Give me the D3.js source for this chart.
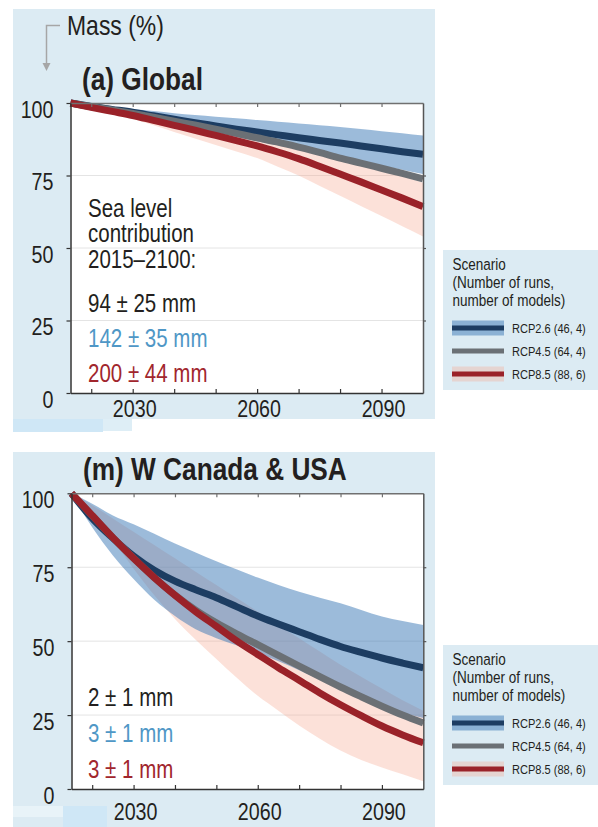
<!DOCTYPE html>
<html>
<head>
<meta charset="utf-8">
<script src="https://cdn.jsdelivr.net/npm/d3@7"></script>
<style>
  html, body { margin: 0; padding: 0; background: #fff; }
  svg { display: block; }
</style>
</head>
<body>
<svg id="chart" width="598" height="827"></svg>
<script>
// ---- data: glacier mass relative to 2015 (%) ----
const years = [2015, 2020, 2025, 2030, 2035, 2040, 2045, 2050, 2055, 2060, 2065, 2070, 2075, 2080, 2085, 2090, 2095, 2100];

// (a) Global
const globalRcp26   = [100, 98.8, 97.8, 96.8, 95.6, 94.4, 93.2, 92.1, 91.0, 90.0, 89.0, 88.0, 87.1, 86.2, 85.2, 84.2, 83.2, 82.3];
const globalRcp26Hi = [100, 99.3, 98.6, 97.9, 97.2, 96.5, 95.9, 95.3, 94.7, 94.1, 93.5, 92.9, 92.3, 91.7, 91.0, 90.3, 89.6, 88.8];
const globalRcp26Lo = [100, 98.3, 97.0, 95.7, 94.2, 92.6, 91.2, 89.8, 88.3, 86.8, 85.4, 84.0, 82.7, 81.3, 79.9, 78.4, 77.0, 75.5];
const globalRcp45   = [100, 98.7, 97.6, 96.4, 95.1, 93.7, 92.4, 91.0, 89.5, 88.0, 86.5, 84.8, 83.0, 81.0, 79.3, 77.5, 75.7, 73.8];
const globalRcp85   = [100, 98.5, 97.1, 95.7, 94.0, 92.3, 90.6, 88.8, 87.0, 85.2, 83.1, 80.8, 78.2, 75.5, 72.8, 70.0, 67.2, 64.3];
const globalRcp85Hi = [100, 98.8, 97.7, 96.6, 95.3, 94.0, 92.8, 91.5, 90.2, 89.0, 87.2, 85.3, 83.2, 81.0, 78.9, 76.8, 74.7, 72.5];
const globalRcp85Lo = [100, 98.1, 96.3, 94.5, 92.3, 90.0, 87.8, 85.5, 83.3, 81.0, 78.0, 75.0, 71.5, 68.0, 64.5, 61.0, 57.5, 54.0];

// (m) W Canada & USA
const wcanRcp26   = [100, 91.5, 84.8, 78.8, 74.0, 70.3, 67.4, 64.7, 61.6, 58.5, 55.8, 53.2, 50.6, 48.2, 46.2, 44.3, 42.6, 41.0];
const wcanRcp26Hi = [100, 96.5, 92.5, 89.5, 86.3, 83.0, 80.0, 77.0, 74.2, 71.5, 69.0, 66.7, 64.7, 62.8, 60.5, 58.3, 56.8, 55.5];
const wcanRcp26Lo = [100, 88.5, 79.0, 71.0, 64.0, 58.5, 54.0, 51.0, 48.5, 46.0, 43.2, 40.2, 37.0, 33.8, 30.8, 28.0, 25.8, 24.0];
const wcanRcp45   = [100, 92.5, 85.0, 78.0, 71.5, 65.6, 60.5, 56.2, 52.4, 48.8, 45.2, 41.6, 38.0, 34.5, 31.2, 28.0, 25.0, 22.3];
const wcanRcp85   = [100, 92.5, 85.0, 78.0, 71.5, 65.5, 60.0, 55.0, 50.0, 45.5, 41.0, 36.8, 32.5, 28.5, 24.8, 21.3, 18.3, 15.6];
const wcanRcp85Hi = [100, 96.0, 91.5, 87.0, 82.5, 78.0, 73.5, 69.0, 64.5, 60.0, 55.5, 51.0, 46.5, 42.0, 38.0, 34.0, 30.0, 26.5];
const wcanRcp85Lo = [100, 92.0, 84.0, 74.5, 65.5, 57.5, 50.5, 44.0, 37.5, 31.5, 26.5, 21.5, 17.0, 13.0, 9.8, 7.3, 5.0, 2.6];

// axes and labels
const xTickYears  = [2020, 2030, 2040, 2050, 2060, 2070, 2080, 2090];
const xTickLabels = [2030, 2060, 2090];
const yTickValues = [0, 25, 50, 75, 100];
const yGridValues = [25, 50, 75];
const scenarioNames = ["RCP2.6 (46, 4)", "RCP4.5 (64, 4)", "RCP8.5 (88, 6)"];
const legendTitle = ["Scenario", "(Number of runs,", "number of models)"];
const globalIntro = ["Sea level", "contribution", "2015\u20132100:"];
const globalSeaLevel = ["94 \u00b1 25 mm", "142 \u00b1 35 mm", "200 \u00b1 44 mm"];
const wcanSeaLevel = ["2 \u00b1 1 mm", "3 \u00b1 1 mm", "3 \u00b1 1 mm"];

// ---- styling ----
const BG = "#dcebf3";
const INK = "#231f20";
const C26 = "#1d3d62", C45 = "#6b7075", C85 = "#9a2229";
const BAND26 = "#3a78b5", BAND85 = "#f5a993";
const NOTE_COLORS = [INK, "#4f97c6", "#a1262d"];

function hasFont(name) {
  const c = document.createElement("canvas").getContext("2d");
  const s = "Mass (%) 2030 abcdefghij";
  c.font = "40px monospace";
  const a = c.measureText(s).width;
  c.font = `40px "${name}", monospace`;
  const b = c.measureText(s).width;
  return Math.abs(a - b) > 0.5;
}
const narrow = hasFont("Liberation Sans Narrow");
const FONT = narrow ? '"Liberation Sans Narrow", "Arial Narrow", sans-serif' : '"Liberation Sans", Arial, sans-serif';
const SX = narrow ? 1 : 0.82;

const svg = d3.select("#chart");

function label(g, x, y, str, o = {}) {
  return g.append("text")
    .attr("transform", `translate(${x},${y}) scale(${SX},1)`)
    .attr("font-family", FONT)
    .attr("font-size", o.size || 24)
    .attr("font-weight", o.weight || "normal")
    .attr("fill", o.fill || INK)
    .attr("text-anchor", o.anchor || "start")
    .text(str);
}

function panel(cfg) {
  const g = svg.append("g");
  const x = d3.scaleLinear().domain([2015, 2100]).range([cfg.left, cfg.right]);
  const y = d3.scaleLinear().domain([0, 100]).range([cfg.bottom, cfg.top]);

  g.append("rect").attr("x", 13).attr("y", cfg.bgTop).attr("width", 422)
    .attr("height", cfg.bgBottom - cfg.bgTop).attr("fill", BG);
  g.append("rect").attr("x", cfg.left).attr("y", cfg.top)
    .attr("width", cfg.right - cfg.left).attr("height", cfg.bottom - cfg.top).attr("fill", "#fff");

  g.selectAll("line.grid").data(yGridValues).join("line").attr("class", "grid")
    .attr("x1", cfg.left).attr("x2", cfg.right)
    .attr("y1", d => y(d)).attr("y2", d => y(d))
    .attr("stroke", "#e4e4e4").attr("stroke-width", 1);

  const band = (lo, hi) => d3.area()
    .x((d, i) => x(years[i])).y0((d, i) => y(lo[i])).y1((d, i) => y(hi[i]))
    .curve(d3.curveMonotoneX)(years);
  const line = vals => d3.line()
    .x((d, i) => x(years[i])).y((d, i) => y(vals[i]))
    .curve(d3.curveMonotoneX)(years);

  g.append("path").attr("d", band(cfg.r85Lo, cfg.r85Hi)).attr("fill", BAND85).attr("fill-opacity", 0.35);
  g.append("path").attr("d", band(cfg.r26Lo, cfg.r26Hi)).attr("fill", BAND26).attr("fill-opacity", 0.5);

  [[cfg.r26, C26], [cfg.r45, C45], [cfg.r85, C85]].forEach(([vals, c]) => {
    g.append("path").attr("d", line(vals)).attr("fill", "none")
      .attr("stroke", c).attr("stroke-width", 7).attr("stroke-linejoin", "round");
  });

  // frame and ticks
  const style = (sel, color) => {
    sel.select(".domain").attr("stroke", color).attr("stroke-width", 1.5);
    sel.selectAll(".tick line").attr("stroke", color).attr("stroke-width", 1.2);
    sel.selectAll("text").remove();
  };
  g.append("g").attr("transform", `translate(0,${cfg.top})`)
    .call(d3.axisTop(x).tickValues(xTickYears).tickSize(-4).tickSizeOuter(0)).call(s => style(s, "#707070"));
  g.append("g").attr("transform", `translate(${cfg.right},0)`)
    .call(d3.axisRight(y).tickValues(yGridValues).tickSize(3).tickSizeOuter(0)).call(s => style(s, "#555"));
  g.append("g").attr("transform", `translate(0,${cfg.bottom})`)
    .call(d3.axisBottom(x).tickValues(xTickYears).tickSize(-4).tickSizeOuter(0)).call(s => style(s, "#333"));
  g.append("g").attr("transform", `translate(${cfg.left},0)`)
    .call(d3.axisLeft(y).tickValues(yTickValues).tickSize(4).tickSizeOuter(0)).call(s => style(s, "#333"));

  yTickValues.forEach(v => label(g, cfg.left - 17, y(v) + 14.5, v, { size: 24, anchor: "end" }));
  xTickLabels.forEach(v => label(g, x(v) + 2, cfg.bottom + cfg.xLabelGap, v, { size: 24, anchor: "middle" }));

  label(g, cfg.titleX, cfg.titleY, cfg.title, { size: 32, weight: "bold" });

  cfg.notes.forEach((t, i) => label(g, 88, cfg.noteY[i], t, { size: 25, fill: cfg.noteFill[i] }));
  return g;
}

function legend(top) {
  const g = svg.append("g");
  g.append("rect").attr("x", 443).attr("y", top).attr("width", 155).attr("height", 140).attr("fill", BG);
  legendTitle.forEach((t, i) => label(g, 452.5, top + 20 + i * 18, t, { size: 16.5 }));
  const rows = [
    { name: scenarioNames[0], line: C26, band: BAND26, op: 0.5, cy: top + 78 },
    { name: scenarioNames[1], line: C45, band: null, cy: top + 101 },
    { name: scenarioNames[2], line: C85, band: BAND85, op: 0.35, cy: top + 124 }
  ];
  rows.forEach(r => {
    if (r.band) g.append("rect").attr("x", 452).attr("y", r.cy - 7.5).attr("width", 52).attr("height", 15)
      .attr("fill", r.band).attr("fill-opacity", r.op);
    g.append("line").attr("x1", 452).attr("x2", 504).attr("y1", r.cy).attr("y2", r.cy)
      .attr("stroke", r.line).attr("stroke-width", 5);
    label(g, 512, r.cy + 5, r.name, { size: 13.5 });
  });
}

// ---- (a) Global ----
panel({
  left: 70.5, right: 423, top: 103, bottom: 393, bgTop: 9, bgBottom: 419, xLabelGap: 24,
  title: "(a) Global", titleX: 82, titleY: 90,
  r26: globalRcp26, r26Lo: globalRcp26Lo, r26Hi: globalRcp26Hi, r45: globalRcp45,
  r85: globalRcp85, r85Lo: globalRcp85Lo, r85Hi: globalRcp85Hi,
  notes: [...globalIntro, ...globalSeaLevel],
  noteY: [216.7, 242.3, 268, 311.7, 346.7, 381.7],
  noteFill: [INK, INK, INK, ...NOTE_COLORS]
});
svg.append("rect").attr("x", 13).attr("y", 419).attr("width", 90).attr("height", 13).attr("fill", "#cfe7f6");
svg.append("rect").attr("x", 103).attr("y", 419).attr("width", 29).attr("height", 12).attr("fill", "#deeef6");

// axis caption with arrow
svg.append("path").attr("d", "M60,25.5 H46.5 V64").attr("fill", "none").attr("stroke", "#a6a6a6").attr("stroke-width", 1.5);
svg.append("path").attr("d", "M42.5,63 L50.5,63 L46.5,71 Z").attr("fill", "#a6a6a6");
label(svg, 67, 35, "Mass (%)", { size: 28 });

// ---- (m) W Canada & USA ----
panel({
  left: 71.5, right: 423.3, top: 493.3, bottom: 789, bgTop: 452, bgBottom: 827, xLabelGap: 31,
  title: "(m) W Canada & USA", titleX: 83, titleY: 480,
  r26: wcanRcp26, r26Lo: wcanRcp26Lo, r26Hi: wcanRcp26Hi, r45: wcanRcp45,
  r85: wcanRcp85, r85Lo: wcanRcp85Lo, r85Hi: wcanRcp85Hi,
  notes: wcanSeaLevel,
  noteY: [706, 741.7, 777.7],
  noteFill: NOTE_COLORS
});
svg.append("rect").attr("x", 13).attr("y", 806).attr("width", 50).attr("height", 11).attr("fill", "#e8f3f8");
svg.append("rect").attr("x", 63).attr("y", 806).attr("width", 44).attr("height", 21).attr("fill", "#cfe7f6");

legend(250);
legend(645);
</script>
</body>
</html>
